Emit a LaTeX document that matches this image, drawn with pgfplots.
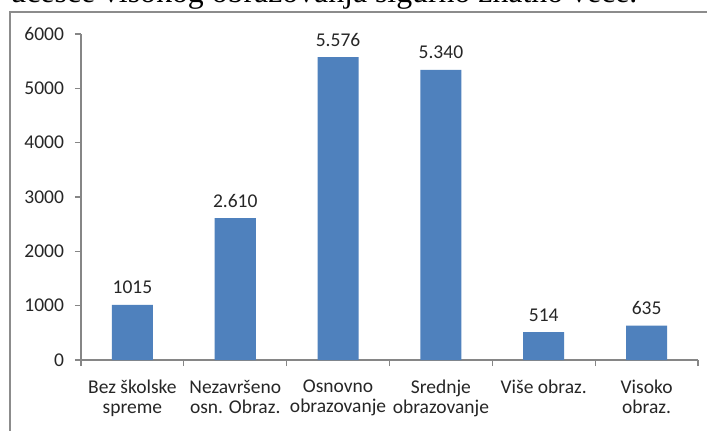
\documentclass[border=0pt]{standalone}
\usepackage{fontspec}
\setmainfont{Carlito}
\newfontfamily\tnr{Liberation Serif}
\usepackage{pgfplots}
\usepackage{pgfplotstable}
\pgfplotsset{compat=1.18}
\definecolor{barblue}{HTML}{4F81BD}
\definecolor{axgray}{HTML}{868686}
\definecolor{framegray}{HTML}{8C8C8C}
\pgfplotstableread{
x y lab
0 1015 1015
1 2610 2.610
2 5576 5.576
3 5340 5.340
4 514 514
5 635 635
}\datatab
\begin{document}
\begin{tikzpicture}
\clip (0,0) rectangle (353.5pt,-215pt);
\fill[white] (0,0) rectangle (353.5pt,-215pt);
\node[anchor=base west, inner sep=0, font=\tnr\fontsize{15.9}{18}\selectfont] at (5pt,-1.25pt) {učešće visokog obrazovanja sigurno znatno veće.};
\draw[framegray, line width=1pt] (5pt,-6pt) rectangle (400pt,-300pt);
\begin{axis}[
  at={(40.5pt,-180pt)}, anchor=south west,
  scale only axis, width=308.5pt, height=163pt,
  xmin=-0.5, xmax=5.5, ymin=0, ymax=6000,
  axis x line=bottom, axis y line=left,
  axis line style={-, axgray, line width=0.6pt},
  tick style={axgray, line width=0.6pt},
  tick align=outside,
  major tick length=3pt,
  xtick={-0.5,0.5,...,5.5},
  x tick label as interval,
  xticklabels={{Bez školske\\spreme},{Nezavršeno\\osn. Obraz.},{Osnovno\\obrazovanje},{Srednje\\obrazovanje},{Više obraz.},{Visoko\\obraz.}},
  xticklabel style={align=center, font=\fontsize{9.75}{10}\selectfont, text=black!85, yshift=-3.5pt},
  ytick={0,1000,...,6000},
  yticklabel style={font=\fontsize{9.75}{10}\selectfont, text=black!85, xshift=-2pt},
  /pgf/number format/assume math mode=true,
  /pgf/number format/1000 sep={},
  ybar, bar width=20.5pt,
  nodes near coords,
  point meta=explicit symbolic,
  every node near coord/.append style={anchor=base, yshift=5.5pt, inner sep=0pt, font=\fontsize{9.75}{10}\selectfont, text=black!85},
  clip=false,
]
\addplot[fill=barblue, draw=none] table[x=x, y=y, meta=lab] {\datatab};
\end{axis}
\end{tikzpicture}
\end{document}
